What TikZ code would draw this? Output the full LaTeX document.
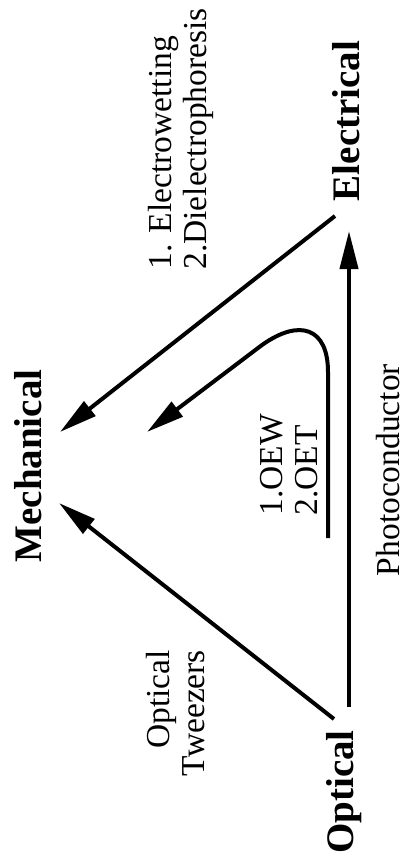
\documentclass[tikz,border=0pt]{standalone}
\usepackage{fontspec}
\setmainfont{Liberation Serif}
\usetikzlibrary{arrows.meta}
\tikzset{
  big/.style={font=\bfseries\fontsize{39}{41}\selectfont, rotate=90, inner sep=0pt},
  lbl/.style={font=\fontsize{33.5}{35}\selectfont, rotate=90, inner sep=0pt},
  conn/.style={line width=4pt, -{Triangle[length=38pt,width=18pt]}},
}
\begin{document}
\begin{tikzpicture}[x=1pt,y=-1pt]
\useasboundingbox (0,0) rectangle (405,861);
% main labels
\node[big] (elec) at (346,121) {Electrical};
\node[big] (mech) at (28,466) {Mechanical};
\node[big] (opt) at (344,792) {Optical};
% connector labels
\node[lbl, align=left] (ew) at (180.5,139) {1. Electrowetting\\2.Dielectrophoresis};
\node[lbl, align=right] (ot) at (175.5,713) {Optical\\Tweezers};
\node[lbl, align=left] (oew) at (289,465) {1.OEW\\2.OET};
\node[lbl] (pc) at (388,470) {Photoconductor};
% connector ends
\coordinate (e1) at (335,216);
\coordinate (m1) at (60,432);
\coordinate (o1) at (334,719);
\coordinate (m2) at (59,503);
\coordinate (o2) at (349,707);
\coordinate (e2) at (349,231);
\coordinate (c0) at (328,538);
\coordinate (c1) at (328,372);
\coordinate (c2) at (262,345);
\coordinate (m3) at (147,432);
% connectors
\draw[conn] (e1) -- (m1);
\draw[conn] (o1) -- (m2);
\draw[conn] (o2) -- (e2);
\draw[conn] (c0) -- (c1) .. controls (328,328) and (300,318) .. (c2) -- (m3);
\end{tikzpicture}
\end{document}
